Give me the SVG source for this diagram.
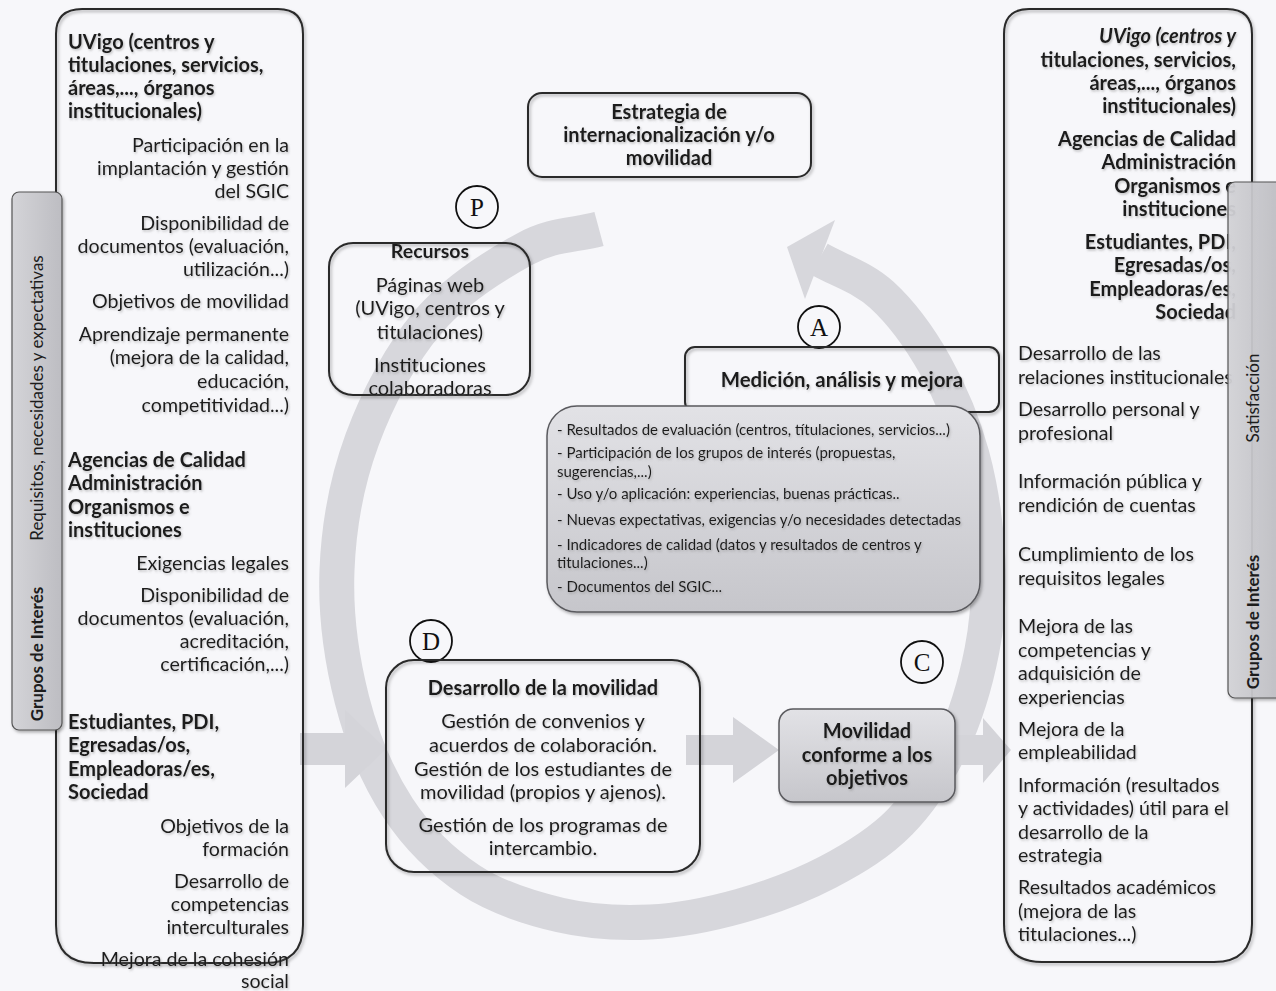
<svg xmlns="http://www.w3.org/2000/svg" width="1276" height="991" viewBox="0 0 1276 991">
<style>
.t{font-family:Lato,"Open Sans",sans-serif;font-size:19.6px;fill:#1c1c1c}
.b{font-weight:bold;font-size:20px}
.i{font-style:italic}
.e{text-anchor:end}
.m{text-anchor:middle}
.s{font-size:15px}
.c{font-size:20px}
.box{fill:none;stroke:#2a2a2a;stroke-width:2}
.gbox{stroke:#5a5a5e;stroke-width:1.5}
.circ{fill:#f7f7fa;stroke:#111;stroke-width:1.8}
.let{font-family:"Liberation Serif",serif;font-size:25px;fill:#111;text-anchor:middle}
.blk{fill:#d4d4d9}
.tabt{font-size:17px}
</style>
<defs>
<filter id="sh" x="-10%" y="-10%" width="120%" height="120%">
<feDropShadow dx="1.5" dy="2" stdDeviation="1.5" flood-color="#000" flood-opacity="0.3"/>
</filter>
<filter id="ts" x="-5%" y="-20%" width="110%" height="140%">
<feDropShadow dx="1" dy="1.5" stdDeviation="1" flood-color="#777" flood-opacity="0.45"/>
</filter>
<linearGradient id="gg" x1="0" y1="0" x2="0" y2="1">
<stop offset="0" stop-color="#e2e2e6"/>
<stop offset="1" stop-color="#c6c6cb"/>
</linearGradient>
<linearGradient id="tab" x1="0" y1="0" x2="1" y2="0">
<stop offset="0" stop-color="#d4d4d8"/>
<stop offset="1" stop-color="#bdbdc2"/>
</linearGradient>
</defs>
<rect width="1276" height="991" fill="#f7f7fa"/>

<g id="cycle-arrow">
<path d="M599,229 C574.3,235.7 553.5,233.5 525,249 C496.5,264.5 455.2,290.2 428,322 C400.8,353.8 377.2,398.7 362,440 C346.8,481.3 338.7,526.7 337,570 C335.3,613.3 341.8,660.3 352,700 C362.2,739.7 378.3,778 398,808 C417.7,838 443,862.2 470,880 C497,897.8 530,908 560,915 C590,922 620,923.5 650,922 C680,920.5 710.3,914.3 740,906 C769.7,897.7 801.3,886 828,872 C854.7,858 879.3,843.2 900,822 C920.7,800.8 938.3,773.7 952,745 C965.7,716.3 976,680.8 982,650 C988,619.2 989.7,592.5 988,560 C986.3,527.5 980.8,487.5 972,455 C963.2,422.5 950,391.7 935,365 C920,338.3 901.3,312.7 882,295 C862.7,277.3 840,271 819,259" fill="none" stroke="#d7d7dc" stroke-width="35"/>
<polygon points="787,247 835,220 805,299" fill="#d7d7dc"/>
</g>

<g id="connectors">
<polygon class="blk" points="300,733 345,733 345,710 386,749 345,788 345,765 300,765"/>
<polygon class="blk" points="686,735 733,735 733,717 779,750 733,783 733,765 686,765"/>
<polygon class="blk" points="950,735 983,735 983,718 1011,750 983,783 983,765 950,765"/>
</g>

<g id="left-panel">
<path class="box" filter="url(#sh)" d="M82,9 H278 Q303,9 303,34 V925 Q303,963 265,963 H94 Q56,963 56,925 V34 Q56,9 82,9 Z"/>
<g filter="url(#ts)">
<text class="t b" x="68" y="49">UVigo (centros y</text>
<text class="t b" x="68" y="72">titulaciones, servicios,</text>
<text class="t b" x="68" y="95">áreas,..., órganos</text>
<text class="t b" x="68" y="118">institucionales)</text>
<text class="t e" x="289" y="152">Participación en la</text>
<text class="t e" x="289" y="175">implantación y gestión</text>
<text class="t e" x="289" y="198">del SGIC</text>
<text class="t e" x="289" y="230">Disponibilidad de</text>
<text class="t e" x="289" y="253">documentos (evaluación,</text>
<text class="t e" x="289" y="276">utilización...)</text>
<text class="t e" x="289" y="308">Objetivos de movilidad</text>
<text class="t e" x="289" y="341">Aprendizaje permanente</text>
<text class="t e" x="289" y="364">(mejora de la calidad,</text>
<text class="t e" x="289" y="388">educación,</text>
<text class="t e" x="289" y="412">competitividad...)</text>
<text class="t b" x="68" y="467">Agencias de Calidad</text>
<text class="t b" x="68" y="490">Administración</text>
<text class="t b" x="68" y="514">Organismos e</text>
<text class="t b" x="68" y="537">instituciones</text>
<text class="t e" x="289" y="570">Exigencias legales</text>
<text class="t e" x="289" y="602">Disponibilidad de</text>
<text class="t e" x="289" y="625">documentos (evaluación,</text>
<text class="t e" x="289" y="648">acreditación,</text>
<text class="t e" x="289" y="671">certificación,...)</text>
<text class="t b" x="68" y="729">Estudiantes, PDI,</text>
<text class="t b" x="68" y="752">Egresadas/os,</text>
<text class="t b" x="68" y="776">Empleadoras/es,</text>
<text class="t b" x="68" y="799">Sociedad</text>
<text class="t e" x="289" y="833">Objetivos de la</text>
<text class="t e" x="289" y="856">formación</text>
<text class="t e" x="289" y="888">Desarrollo de</text>
<text class="t e" x="289" y="911">competencias</text>
<text class="t e" x="289" y="934">interculturales</text>
<text class="t e" x="289" y="966">Mejora de la cohesión</text>
<text class="t e" x="289" y="988">social</text>
</g>
</g>

<g id="left-tab">
<rect x="12" y="192" width="50" height="538" rx="7" fill="url(#tab)" stroke="#555" stroke-width="1.2" filter="url(#sh)"/>
<text class="t b m tabt" transform="translate(43,654) rotate(-90)">Grupos de Interés</text>
<text class="t m tabt" transform="translate(43,398) rotate(-90)">Requisitos, necesidades y expectativas</text>
</g>

<g id="right-panel">
<path class="box" filter="url(#sh)" d="M1029,9 H1227 Q1252,9 1252,34 V924 Q1252,962 1214,962 H1042 Q1004,962 1004,924 V34 Q1004,9 1029,9 Z"/>
<g filter="url(#ts)">
<text class="t b i e" x="1236" y="43">UVigo (centros y</text>
<text class="t b e" x="1236" y="67">titulaciones, servicios,</text>
<text class="t b e" x="1236" y="90">áreas,..., órganos</text>
<text class="t b e" x="1236" y="113">institucionales)</text>
<text class="t b e" x="1236" y="146">Agencias de Calidad</text>
<text class="t b e" x="1236" y="169">Administración</text>
<text class="t b e" x="1236" y="193">Organismos e</text>
<text class="t b e" x="1236" y="216">instituciones</text>
<text class="t b e" x="1236" y="249">Estudiantes, PDI,</text>
<text class="t b e" x="1236" y="272">Egresadas/os,</text>
<text class="t b e" x="1236" y="296">Empleadoras/es,</text>
<text class="t b e" x="1236" y="319">Sociedad</text>
<text class="t" x="1018" y="360">Desarrollo de las</text>
<text class="t" x="1018" y="384">relaciones institucionales</text>
<text class="t" x="1018" y="416">Desarrollo personal y</text>
<text class="t" x="1018" y="440">profesional</text>
<text class="t" x="1018" y="488">Información pública y</text>
<text class="t" x="1018" y="512">rendición de cuentas</text>
<text class="t" x="1018" y="561">Cumplimiento de los</text>
<text class="t" x="1018" y="585">requisitos legales</text>
<text class="t" x="1018" y="633">Mejora de las</text>
<text class="t" x="1018" y="657">competencias y</text>
<text class="t" x="1018" y="680">adquisición de</text>
<text class="t" x="1018" y="704">experiencias</text>
<text class="t" x="1018" y="736">Mejora de la</text>
<text class="t" x="1018" y="759">empleabilidad</text>
<text class="t" x="1018" y="792">Información (resultados</text>
<text class="t" x="1018" y="815">y actividades) útil para el</text>
<text class="t" x="1018" y="839">desarrollo de la</text>
<text class="t" x="1018" y="862">estrategia</text>
<text class="t" x="1018" y="894">Resultados académicos</text>
<text class="t" x="1018" y="918">(mejora de las</text>
<text class="t" x="1018" y="941">titulaciones...)</text>
</g>
</g>

<g id="right-tab">
<rect x="1228" y="182" width="56" height="516" rx="7" fill="url(#tab)" fill-opacity="0.93" stroke="#555" stroke-width="1.2" filter="url(#sh)"/>
<text class="t m tabt" transform="translate(1259,398) rotate(-90)">Satisfacción</text>
<text class="t b m tabt" transform="translate(1259,622) rotate(-90)">Grupos de Interés</text>
</g>

<g id="estrategia">
<rect class="box" filter="url(#sh)" x="528" y="93" width="283" height="84" rx="14"/>
<g filter="url(#ts)">
<text class="t b m" x="669" y="119">Estrategia de</text>
<text class="t b m" x="669" y="142">internacionalización y/o</text>
<text class="t b m" x="669" y="165">movilidad</text>
</g>
</g>

<g id="label-P"><circle class="circ" cx="477" cy="207" r="21"/><text class="let" x="477" y="216">P</text></g>

<g id="recursos">
<rect class="box" filter="url(#sh)" x="329" y="243" width="201" height="152" rx="24"/>
<g filter="url(#ts)">
<text class="t b m" style="font-size:19.5px" x="430" y="258">Recursos</text>
<text class="t m c" x="430" y="292">Páginas web</text>
<text class="t m c" x="430" y="315">(UVigo, centros y</text>
<text class="t m c" x="430" y="339">titulaciones)</text>
<text class="t m c" x="430" y="372">Instituciones</text>
<text class="t m c" x="430" y="395">colaboradoras</text>
</g>
</g>

<g id="label-A"><circle class="circ" cx="819" cy="327" r="21"/><text class="let" x="819" y="336">A</text></g>

<g id="medicion">
<rect class="box" filter="url(#sh)" x="685" y="347" width="314" height="65" rx="10"/>
<text class="t b m" style="font-size:20.4px" filter="url(#ts)" x="842" y="387">Medición, análisis y mejora</text>
</g>

<g id="lista">
<rect class="gbox" fill="url(#gg)" filter="url(#sh)" x="547" y="406" width="433" height="206" rx="30"/>
<g filter="url(#ts)">
<text class="t s" x="557" y="435">- Resultados de evaluación (centros, títulaciones, servicios...)</text>
<text class="t s" x="557" y="458">- Participación de los grupos de interés (propuestas,</text>
<text class="t s" x="557" y="477">sugerencias,...)</text>
<text class="t s" x="557" y="499">- Uso y/o aplicación: experiencias, buenas prácticas..</text>
<text class="t s" x="557" y="525">- Nuevas expectativas, exigencias y/o necesidades detectadas</text>
<text class="t s" x="557" y="550">- Indicadores de calidad (datos y resultados de centros y</text>
<text class="t s" x="557" y="568">titulaciones...)</text>
<text class="t s" x="557" y="592">- Documentos del SGIC...</text>
</g>
</g>

<g id="label-D"><circle class="circ" cx="431" cy="641" r="21"/><text class="let" x="431" y="650">D</text></g>
<g id="label-C"><circle class="circ" cx="922" cy="662" r="21"/><text class="let" x="922" y="671">C</text></g>

<g id="desarrollo">
<rect class="box" filter="url(#sh)" x="386" y="660" width="314" height="212" rx="28"/>
<g filter="url(#ts)">
<text class="t b m" x="543" y="695">Desarrollo de la movilidad</text>
<text class="t m c" x="543" y="728">Gestión de convenios y</text>
<text class="t m c" x="543" y="752">acuerdos de colaboración.</text>
<text class="t m c" x="543" y="776">Gestión de los estudiantes de</text>
<text class="t m c" x="543" y="799">movilidad (propios y ajenos).</text>
<text class="t m c" x="543" y="832">Gestión de los programas de</text>
<text class="t m c" x="543" y="855">intercambio.</text>
</g>
</g>

<g id="movilidad">
<rect class="gbox" fill="url(#gg)" filter="url(#sh)" x="779" y="709" width="176" height="93" rx="14"/>
<g filter="url(#ts)">
<text class="t b m" x="867" y="738">Movilidad</text>
<text class="t b m" x="867" y="762">conforme a los</text>
<text class="t b m" x="867" y="785">objetivos</text>
</g>
</g>
</svg>
